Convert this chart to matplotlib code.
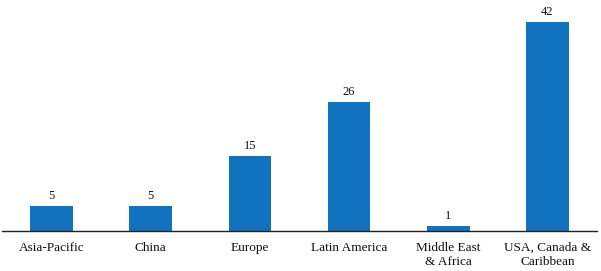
import matplotlib
matplotlib.use("Agg")
import matplotlib.pyplot as plt

regions = ["Asia-Pacific", "China", "Europe", "Latin America",
           "Middle East\n& Africa", "USA, Canada &\nCaribbean"]
counts = [5, 5, 15, 26, 1, 42]

plt.rcParams['font.family'] = ['Liberation Serif', 'DejaVu Serif']

fig = plt.figure(figsize=(6.01, 2.71), dpi=100)
ax = fig.add_axes([2 / 601, 40 / 271, 595 / 601, 231 / 271])

x = range(len(regions))
bars = ax.bar(x, counts, width=0.43, color="#1172bf")

# value labels above the bars
for b, v in zip(bars, counts):
    ax.text(b.get_x() + b.get_width() / 2, v + 0.8, str(v),
            ha="center", va="bottom", fontsize=9, color="#111111")

ax.set_xlim(-0.5, 5.5)
ax.set_ylim(0, 46.4)
ax.set_xticks(list(x))
ax.set_xticklabels(regions, fontsize=9.5, color="#111111", linespacing=1.25)
ax.tick_params(axis="x", length=0, pad=8)
ax.set_yticks([])
for s in ["top", "right", "left"]:
    ax.spines[s].set_visible(False)
ax.spines["bottom"].set_color("#222222")
ax.spines["bottom"].set_linewidth(1.0)

fig.savefig("out.png", dpi=100)
